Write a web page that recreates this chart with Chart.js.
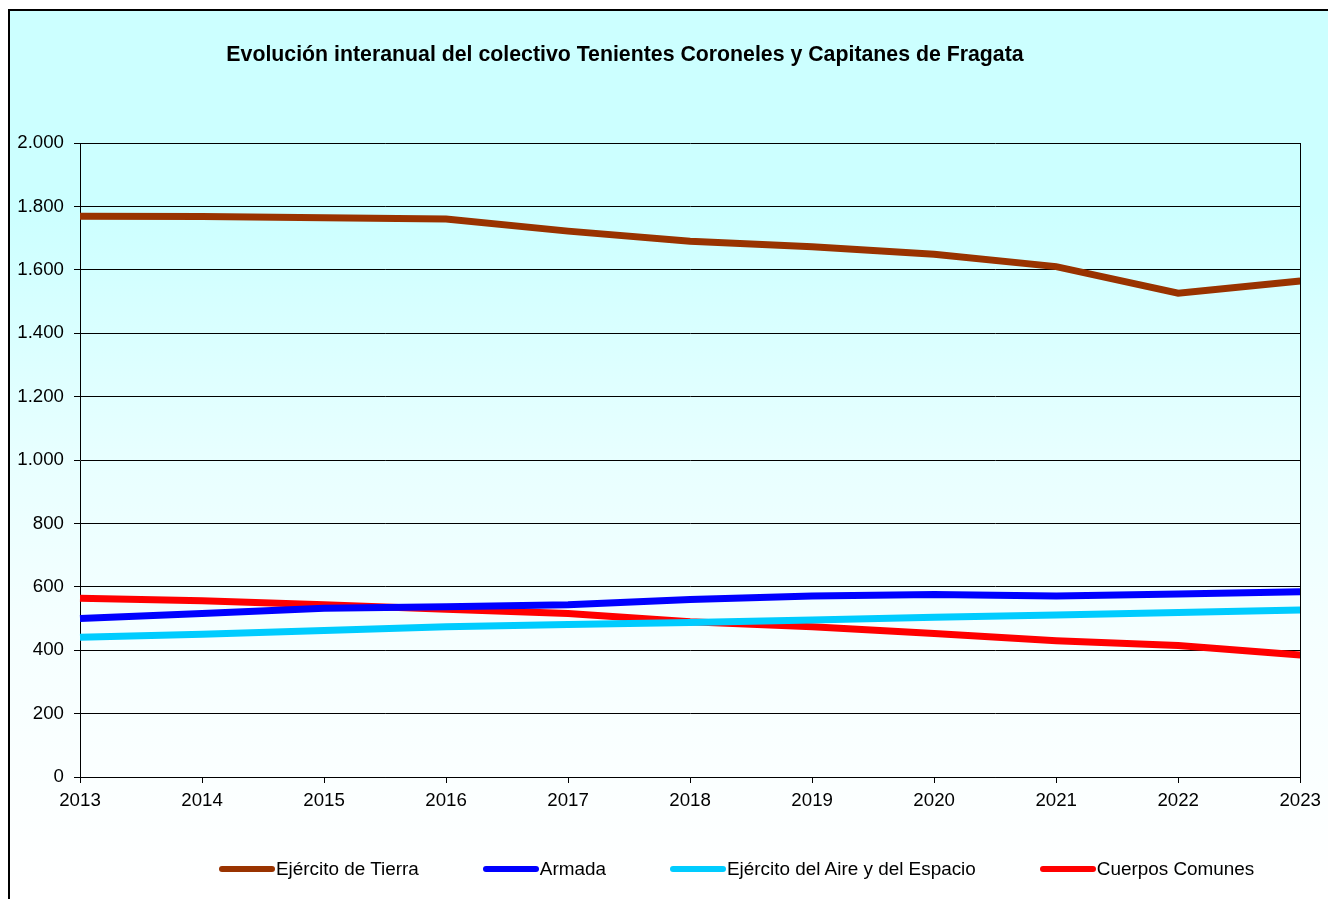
<!DOCTYPE html>
<html>
<head>
<meta charset="utf-8">
<script src="https://cdn.jsdelivr.net/npm/chart.js@4.4.1/dist/chart.umd.min.js"></script>
<style>
  html, body { margin: 0; padding: 0; background: #ffffff; width: 1328px; height: 899px; overflow: hidden; }
  #frame {
    position: absolute; left: 8px; top: 9px; width: 1400px; height: 1000px;
    border-left: 2px solid #000; border-top: 2px solid #000;
    background: linear-gradient(to bottom, #CCFFFF 0px, #CCFFFF 200px, #E8FFFF 450px, #F5FFFF 620px, #FFFFFF 880px);
  }
  #c { position: absolute; left: 0; top: 0; }
  #title {
    position: absolute; left: 0; top: 41px; width: 1250px; text-align: center;
    font-family: Arial, "Liberation Sans", sans-serif; font-weight: bold; font-size: 21.3px; line-height: 26px; color: #000;
  }
  #legend {
    position: absolute; left: 219px; top: 856px; height: 26px; display: flex; align-items: center; gap: 64px;
    font-family: Arial, "Liberation Sans", sans-serif; font-size: 18.9px; color: #000; white-space: nowrap;
  }
  .item { display: flex; align-items: center; }
  .swatch { width: 56px; height: 6px; border-radius: 3px; margin-right: 1px; }
</style>
</head>
<body>
<div id="frame"></div>
<canvas id="c" width="1328" height="899"></canvas>
<div id="title">Evolución interanual del colectivo Tenientes Coroneles y Capitanes de Fragata</div>
<div id="legend"></div>
<script>
const years = ["2013","2014","2015","2016","2017","2018","2019","2020","2021","2022","2023"];
const seriesNames = ["Ejército de Tierra", "Armada", "Ejército del Aire y del Espacio", "Cuerpos Comunes"];
const tierra  = [1769, 1768, 1764, 1760, 1722, 1690, 1673, 1649, 1610, 1526, 1565];
const armada  = [500, 516, 532, 537, 543, 560, 571, 576, 571, 577, 584];
const aire    = [441, 450, 462, 474, 481, 487, 495, 504, 511, 519, 527];
const comunes = [564, 556, 543, 529, 516, 490, 474, 453, 430, 415, 385];
const colors  = ["#993300", "#0000FF", "#00CCFF", "#FF0000"];
const yTicks  = [0, 200, 400, 600, 800, 1000, 1200, 1400, 1600, 1800, 2000];

const values = [tierra, armada, aire, comunes];
const font = { family: 'Arial, "Liberation Sans", sans-serif', size: 18.7 };

const framePlugin = {
  id: 'frameRight',
  afterDraw(chart) {
    const a = chart.chartArea, ctx = chart.ctx;
    ctx.save();
    ctx.strokeStyle = '#000';
    ctx.lineWidth = 1;
    ctx.beginPath();
    ctx.moveTo(Math.round(a.right) + 0.5, a.top);
    ctx.lineTo(Math.round(a.right) + 0.5, a.bottom);
    ctx.stroke();
    ctx.restore();
  }
};

new Chart(document.getElementById('c'), {
  type: 'line',
  data: {
    labels: years,
    datasets: seriesNames.map((n, i) => ({
      label: n,
      data: values[i],
      borderColor: colors[i],
      backgroundColor: colors[i],
      borderWidth: 7,
      pointRadius: 0,
      tension: 0,
      fill: false
    }))
  },
  options: {
    responsive: false,
    animation: false,
    layout: { padding: { left: 0, top: 143, right: 27, bottom: 92 } },
    plugins: { legend: { display: false }, title: { display: false }, tooltip: { enabled: false } },
    scales: {
      x: {
        offset: false,
        grid: { drawOnChartArea: false, drawTicks: true, tickLength: 6, color: '#000' },
        border: { color: '#000', width: 1 },
        ticks: { font: font, color: '#000', padding: 7, maxRotation: 0, autoSkip: false },
        afterFit(s) { s.height = 30; }
      },
      y: {
        min: 0, max: 2000,
        afterBuildTicks(s) { s.ticks = yTicks.map(v => ({ value: v })); },
        grid: { color: '#000', tickLength: 6, lineWidth: 1 },
        border: { color: '#000', width: 1 },
        ticks: {
          font: font, color: '#000', padding: 10,
          callback: v => String(v).replace(/\B(?=(\d{3})+(?!\d))/g, '.')
        },
        afterFit(s) { s.width = 80; }
      }
    }
  },
  plugins: [framePlugin]
});

const legend = document.getElementById('legend');
seriesNames.forEach((n, i) => {
  const it = document.createElement('div');
  it.className = 'item';
  const sw = document.createElement('div');
  sw.className = 'swatch';
  sw.style.background = colors[i];
  const tx = document.createElement('span');
  tx.textContent = n;
  it.appendChild(sw); it.appendChild(tx);
  legend.appendChild(it);
});
</script>
</body>
</html>
